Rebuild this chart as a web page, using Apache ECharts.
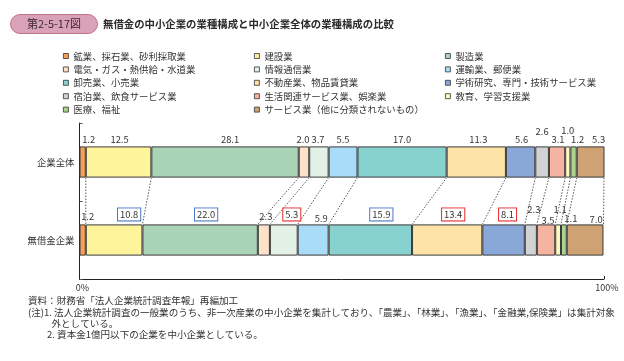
<!DOCTYPE html>
<html><head><meta charset="utf-8">
<script src="https://cdn.jsdelivr.net/npm/echarts@6/dist/echarts.min.js"></script>
<style>html,body{margin:0;padding:0;background:#fff}#c{width:624px;height:361px}</style>
</head><body><div id="c"></div>
<script>
// ---- data ----
const categories = ['企業全体', '無借金企業'];
const industries = [
  '鉱業、採石業、砂利採取業', '建設業', '製造業',
  '電気・ガス・熱供給・水道業', '情報通信業', '運輸業、郵便業',
  '卸売業、小売業', '不動産業、物品賃貸業', '学術研究、専門・技術サービス業',
  '宿泊業、飲食サービス業', '生活関連サービス業、娯楽業', '教育、学習支援業',
  '医療、福祉', 'サービス業（他に分類されないもの）'
];
const allSME   = [1.2, 12.5, 28.1, 2.0, 3.7, 5.5, 17.0, 11.3, 5.6, 2.6, 3.1, 1.0, 1.2, 5.3];
const debtFree = [1.2, 10.8, 22.0, 2.3, 5.3, 5.9, 15.9, 13.4, 8.1, 2.3, 3.5, 1.1, 1.1, 7.0];
const xTickLabels = ['0%', '100%'];

// ---- styles / layout ----
const colors = ['#F4A25B', '#FEF49C', '#A9D5B6', '#FDE1C8', '#E3F1E6', '#A8DCF7', '#87D1CF',
  '#FEE3A6', '#89A8D7', '#D2D3D5', '#F6B3A2', '#FFF8C2', '#AAD58F', '#CEA273'];
const topOffsets = [[6,0],[1,0],[5,0],[-1,0],[-1,0],[0,0],[0,0],[2,0],[1,0],[0,-8],[1,0],[0,-9],[4,0],[8,0]];
const botOffsets = [[5,-1],[15,-2],[6,-2],[2,-1],[8,-2],[8,1],[11,-2],[6,-2],[4,-2],[3,-8],[2,3],[2,-8],[7,1],[11,2]];
const botBoxes = ['', 'blue', 'blue', '', 'red', '', 'blue', 'red', 'red', '', '', '', '', ''];
const boxColor = {blue: '#4A76C4', red: '#E8292E'};
const legendCols = [[0,3,6,9,12],[1,4,7,10,13],[2,5,8,11]];
const legendLefts = [63, 254, 445];
const FONT = '"Noto Sans CJK JP", "Noto Sans", sans-serif';
const TXT = '#333';

const chart = echarts.init(document.getElementById('c'), null, {renderer: 'canvas'});

const baseLabel = {show: true, position: 'top', distance: 2, fontSize: 9.4, lineHeight: 10,
  color: TXT, fontFamily: FONT, formatter: p => Number(p.value).toFixed(1)};

const series = industries.map((name, i) => {
  const box = botBoxes[i];
  const botLabel = Object.assign({offset: botOffsets[i]}, box ? {
    borderColor: boxColor[box], borderWidth: 1, padding: [1, 2, 1, 2], backgroundColor: '#fff'
  } : {});
  return {
    name, type: 'bar', stack: 'total', barWidth: '40%',
    itemStyle: {color: colors[i], borderColor: '#3a3a3a', borderWidth: 1},
    label: baseLabel,
    emphasis: {disabled: true},
    data: [
      {value: allSME[i], label: {offset: topOffsets[i]}},
      {value: debtFree[i], label: botLabel}
    ]
  };
});

// dotted connectors between cumulative boundaries
const cumTop = [], cumBot = [];
allSME.reduce((s, v) => { s += v; cumTop.push(s); return s; }, 0);
debtFree.reduce((s, v) => { s += v; cumBot.push(s); return s; }, 0);
series.push({
  type: 'custom', name: 'connectors', silent: true, z: 1,
  encode: {x: 0, y: 1},
  data: cumTop.map((t, i) => [Math.min(t, 100), 0, Math.min(cumBot[i], 100)]),
  renderItem: (params, api) => {
    const p1 = api.coord([api.value(0), 0]);
    const p2 = api.coord([api.value(2), 1]);
    const band = api.size([0, 1])[1];
    const half = band * 0.4 / 2;
    return {type: 'line', shape: {x1: p1[0], y1: p1[1] + half, x2: p2[0], y2: p2[1] - half},
      style: {stroke: '#555', lineWidth: 1, lineDash: [1.5, 1.5]}};
  }
});

const legends = legendCols.map((col, k) => ({
  orient: 'vertical', left: legendLefts[k], top: 51, padding: 0,
  itemWidth: 5, itemHeight: 5, itemGap: 3.4, icon: 'rect',
  itemStyle: {borderColor: '#333', borderWidth: 0.8},
  textStyle: {fontSize: 9.4, lineHeight: 10, color: TXT, fontFamily: FONT},
  selectedMode: false,
  data: col.map(i => industries[i])
}));

const footer = [
  {x: 28, y: 301, t: '資料：財務省「法人企業統計調査年報」再編加工'},
  {x: 28, y: 313, t: '(注)1. 法人企業統計調査の一般業のうち、非一次産業の中小企業を集計しており、「農業」、「林業」、「漁業」、「金融業,保険業」は集計対象'},
  {x: 51.5, y: 324, t: '外としている。'},
  {x: 47, y: 335, t: '2. 資本金1億円以下の企業を中小企業としている。'}
];

chart.setOption({
  animation: false,
  color: colors,
  title: [
    {text: '第2-5-17図', left: 10, top: 14, padding: [4, 17, 4, 17],
      backgroundColor: '#DAA2B7', borderColor: '#C2718F', borderWidth: 1, borderRadius: 10,
      textStyle: {fontSize: 11, lineHeight: 12, fontWeight: 'normal', color: '#3a2a30', fontFamily: FONT}},
    {text: '無借金の中小企業の業種構成と中小企業全体の業種構成の比較', left: 103, top: 18, padding: 0,
      textStyle: {fontSize: 10.4, lineHeight: 13, fontWeight: 'bold', color: '#2a2a2a', fontFamily: FONT}}
  ],
  legend: legends,
  grid: {left: 79.5, right: 20, top: 123, bottom: 82, containLabel: false},
  xAxis: {
    type: 'value', min: 0, max: 100, interval: 100,
    axisLine: {show: true, lineStyle: {color: '#222', width: 1}},
    axisTick: {show: true, inside: true, length: 3, lineStyle: {color: '#222'}},
    splitLine: {show: false},
    axisLabel: {margin: 4, fontSize: 9, color: TXT, fontFamily: FONT,
      formatter: v => xTickLabels[v === 0 ? 0 : 1], padding: [0, 0, 0, 6]}
  },
  yAxis: {
    type: 'category', inverse: true, data: categories,
    axisLine: {show: true, lineStyle: {color: '#222', width: 1}},
    axisTick: {show: true, inside: true, length: 3, lineStyle: {color: '#555'}},
    axisLabel: {margin: 5, fontSize: 9.4, color: TXT, fontFamily: FONT}
  },
  graphic: footer.map(f => ({type: 'text', left: f.x, top: f.y - 5.5,
    style: {text: f.t, fontSize: 9.55, fill: TXT, fontFamily: FONT}})),
  series
});
</script></body></html>
